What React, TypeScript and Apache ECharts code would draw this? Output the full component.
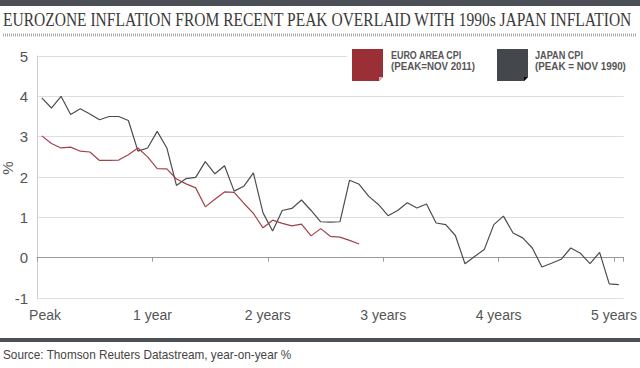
import React, { useEffect, useRef } from 'react';
import * as echarts from 'echarts';

const xTickLabels = ['Peak', '1 year', '2 years', '3 years', '4 years', '5 years'];

const euroCPI = [
  3.02, 2.83, 2.72, 2.74, 2.64, 2.62, 2.41, 2.41, 2.42, 2.55, 2.72, 2.5,
  2.21, 2.2, 1.95, 1.83, 1.73, 1.26, 1.45, 1.63, 1.62, 1.35, 1.1, 0.74,
  0.93, 0.85, 0.79, 0.83, 0.54, 0.72, 0.53, 0.51, 0.43, 0.34,
];

const japanCPI = [
  3.96, 3.71, 4.0, 3.55, 3.69, 3.56, 3.42, 3.5, 3.5, 3.4, 2.64, 2.72,
  3.13, 2.72, 1.79, 1.96, 1.99, 2.38, 2.08, 2.28, 1.65, 1.77, 2.1, 1.11,
  0.66, 1.17, 1.22, 1.43, 1.17, 0.89, 0.88, 0.89, 1.92, 1.82, 1.52, 1.32,
  1.04, 1.17, 1.36, 1.23, 1.33, 0.86, 0.82, 0.55, -0.15, 0.03, 0.2, 0.82,
  1.03, 0.61, 0.49, 0.24, -0.23, -0.14, -0.04, 0.24, 0.11, -0.15, 0.13, -0.65,
  -0.67,
];

const monthsFromPeak = japanCPI.map((_, i) => String(i));

const EURO_COLOR = '#a3424a';
const JAPAN_COLOR = '#4a4d50';
const DARK = '#4b5056';

function measure(text: string, font: string): number {
  const ctx = document.createElement('canvas').getContext('2d');
  if (!ctx) return text.length * 8;
  ctx.font = font;
  return ctx.measureText(text).width || 1;
}

function fitText(
  text: string, x: number, y: number, family: string, size: number,
  weight: string, color: string, width: number
) {
  const w = measure(text, `${weight} ${size}px ${family}`);
  return {
    type: 'text', x, y, scaleX: width / w, z: 10,
    style: { text, fontFamily: family, fontSize: size, fontWeight: weight, fill: color, align: 'left', verticalAlign: 'middle' },
  };
}

export default function App() {
  const ref = useRef<HTMLDivElement>(null);
  useEffect(() => {
    document.body.style.margin = '0';
    if (!ref.current) return;
    const chart = echarts.init(ref.current, null, { renderer: 'svg' });
    const serif = '"Liberation Serif", serif';
    const sans = '"Liberation Sans", sans-serif';
    chart.setOption({
      animation: false,
      backgroundColor: '#ffffff',
      grid: { left: 37, right: 12, top: 56, bottom: 70 },
      xAxis: [
        {
          type: 'category',
          data: monthsFromPeak,
          boundaryGap: true,
          axisLine: { onZero: true, lineStyle: { color: '#9a9a9a', width: 1 } },
          axisTick: { show: true, interval: (i: number) => i % 12 === 0, length: 4, lineStyle: { color: '#9a9a9a' } },
          axisLabel: { show: false },
          splitLine: { show: false },
        },
        {
          type: 'value',
          min: 0, max: 61, interval: 12,
          position: 'bottom',
          axisLine: { show: false, onZero: false },
          axisTick: { show: false },
          splitLine: { show: false },
          axisLabel: {
            margin: 10,
            color: '#555',
            fontFamily: sans,
            fontSize: 14,
            showMaxLabel: false,
            formatter: (v: number) => {
              if (v === 0) return '{p|' + xTickLabels[0] + '}';
              return (v % 12 === 0 && xTickLabels[v / 12]) || '';
            },
            rich: { p: { color: '#555', fontFamily: sans, fontSize: 14, padding: [0, 0, 0, 16] } },
          },
        },
      ],
      yAxis: {
        type: 'value',
        min: -1, max: 5, interval: 1,
        axisLine: { show: true, lineStyle: { color: '#cfcfcf' } },
        axisTick: { show: false },
        axisLabel: { color: '#555', fontFamily: sans, fontSize: 15, margin: 9 },
        splitLine: { lineStyle: { color: '#dedede', width: 1 } },
      },
      series: [
        {
          name: 'JAPAN CPI', type: 'line', xAxisIndex: 0, data: japanCPI,
          symbol: 'none', lineStyle: { color: JAPAN_COLOR, width: 1.2 }, z: 3,
        },
        {
          name: 'EURO AREA CPI', type: 'line', xAxisIndex: 0, data: euroCPI,
          symbol: 'none', lineStyle: { color: EURO_COLOR, width: 1.2 }, z: 4,
        },
      ],
      graphic: [
        { type: 'rect', shape: { x: 0, y: 0, width: 640, height: 6 }, style: { fill: DARK } },
        fitText('EUROZONE INFLATION FROM RECENT PEAK OVERLAID WITH 1990s JAPAN INFLATION', 3, 20, serif, 18, 'normal', '#3a3a3a', 629),
        { type: 'line', shape: { x1: 3, y1: 35, x2: 637, y2: 35 }, style: { stroke: '#aaaaaa', lineWidth: 3, lineDash: [1, 1] } },
        { type: 'rect', z: 5, shape: { x: 347, y: 45, width: 293, height: 40 }, style: { fill: '#ffffff' } },
        { type: 'polygon', z: 10, shape: { points: [[352, 49], [383, 49], [383, 77], [379, 81], [352, 81]] }, style: { fill: '#9b2f36' } },
        { type: 'polygon', z: 10, shape: { points: [[383, 77], [379, 81], [379, 77]] }, style: { fill: '#d9b3b5' } },
        fitText('EURO AREA CPI', 391, 55, sans, 10, 'bold', '#555', 71),
        fitText('(PEAK=NOV 2011)', 391, 66, sans, 10, 'bold', '#555', 84),
        { type: 'polygon', z: 10, shape: { points: [[497, 49], [528, 49], [528, 77], [524, 81], [497, 81]] }, style: { fill: '#44484c' } },
        { type: 'polygon', z: 10, shape: { points: [[528, 77], [524, 81], [524, 77]] }, style: { fill: '#000' } },
        fitText('JAPAN CPI', 535, 55, sans, 10, 'bold', '#555', 48),
        fitText('(PEAK = NOV 1990)', 535, 66, sans, 10, 'bold', '#555', 91),
        { type: 'text', x: 7, y: 168, rotation: Math.PI / 2, style: { text: '%', fontFamily: sans, fontSize: 15, fill: '#555', align: 'center', verticalAlign: 'middle' } },
        { type: 'rect', shape: { x: 0, y: 338, width: 640, height: 4 }, style: { fill: DARK } },
        fitText('Source: Thomson Reuters Datastream, year-on-year %', 3, 355, sans, 12, 'normal', '#444', 289),
      ],
    });
    return () => chart.dispose();
  }, []);
  return <div ref={ref} style={{ width: 640, height: 368 }} />;
}
